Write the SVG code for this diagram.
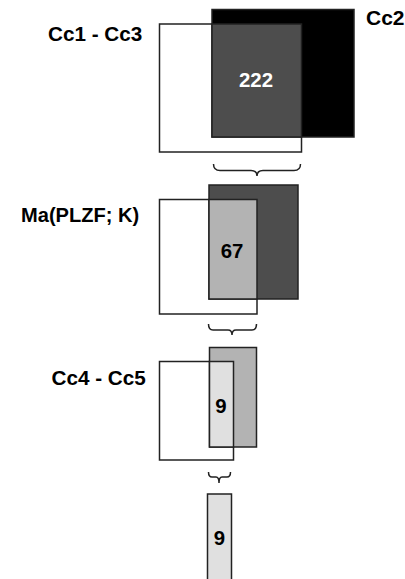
<svg xmlns="http://www.w3.org/2000/svg" width="405" height="579" viewBox="0 0 405 579">
<style>
.lbl{font-family:"Liberation Sans",Arial,sans-serif;font-weight:bold;font-size:20.7px;fill:#000}
.num{font-family:"Liberation Sans",Arial,sans-serif;font-weight:bold;font-size:20.4px;text-anchor:middle}
.box{stroke:#222;stroke-width:1.5}
.brace{fill:none;stroke:#222;stroke-width:1.5}
</style>
<rect width="405" height="579" fill="#fff"/>
<g id="set1">
<rect class="box" x="159.5" y="24" width="142" height="128" fill="#fff"/>
<rect class="box" x="212" y="9.5" width="142" height="127.5" fill="#000"/>
<rect class="box" x="212" y="24" width="89.5" height="113" fill="#4d4d4d"/>
<text class="lbl" x="48" y="41">Cc1 - Cc3</text>
<text class="lbl" x="366" y="25" style="font-size:21px">Cc2</text>
<text class="num" x="256" y="87" fill="#fff">222</text>
</g>
<g id="set2">
<rect class="box" x="159.5" y="199.5" width="97.5" height="114.5" fill="#fff"/>
<rect class="box" x="209" y="185" width="89" height="114" fill="#4d4d4d"/>
<rect class="box" x="209" y="199.5" width="48" height="99.5" fill="#b3b3b3"/>
<text class="lbl" x="21" y="221.5" style="font-size:20.1px">Ma(PLZF; K)</text>
<text class="num" x="232" y="257.5" fill="#000">67</text>
</g>
<g id="set3">
<rect class="box" x="159.5" y="361.5" width="74" height="98.5" fill="#fff"/>
<rect class="box" x="209.5" y="347.5" width="47" height="99.5" fill="#b3b3b3"/>
<rect class="box" x="209.5" y="361.5" width="24" height="85.5" fill="#e0e0e0"/>
<text class="lbl" x="51.5" y="385">Cc4 - Cc5</text>
<text class="num" x="221" y="413" fill="#000">9</text>
</g>
<g id="set4">
<rect class="box" x="207.5" y="494" width="24" height="95" fill="#e0e0e0"/>
<text class="num" x="219.5" y="545" fill="#000">9</text>
</g>
<g id="connectors">
<path class="brace" d="M213.5,164 Q213.5,170.5 220,170.5 L251,170.5 Q257,170.5 257,176 Q257,170.5 263,170.5 L294,170.5 Q300.5,170.5 300.5,164"/>
<path class="brace" d="M208.5,324 Q208.5,330 213,330 L228,330 Q232,330 232,335 Q232,330 236,330 L252,330 Q256.5,330 256.5,324"/>
<path class="brace" d="M208.5,472 Q208.5,477 212,477 L216,477 Q219,477 219,483 Q219,477 222,477 L227,477 Q230.5,477 230.5,472"/>
</g>
</svg>
